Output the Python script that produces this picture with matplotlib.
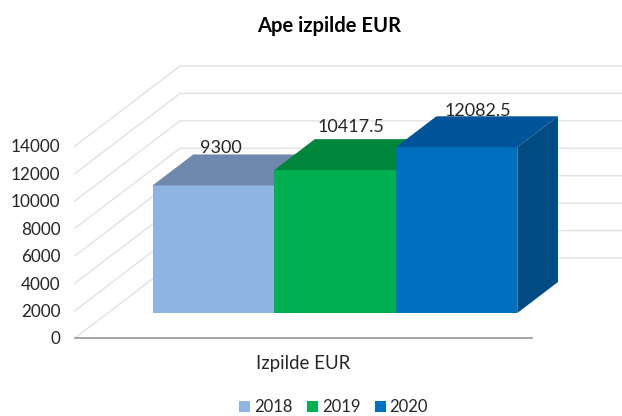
import matplotlib
matplotlib.use("Agg")
import matplotlib.pyplot as plt
from matplotlib.patches import Patch

plt.rcParams['font.family'] = ['Lato', 'DejaVu Sans']

years = ['2018', '2019', '2020']
values = [9300, 10417.5, 12082.5]
value_labels = ['9300', '10417.5', '12082.5']
y_ticks = [0, 2000, 4000, 6000, 8000, 10000, 12000, 14000]
category = 'Izpilde EUR'

front_colors = ['#8DB4E2', '#00B050', '#0070C0']
top_colors = ['#6F88AE', '#00863C', '#005499']
side_color = '#004B82'
grid_color = '#E4E4E4'

W, H = 622, 416
fig = plt.figure(figsize=(W / 100, H / 100), dpi=100)

# axes box is the front edge of the fake 3D floor, in pixels
ax = fig.add_axes([75 / W, 1 - 338 / H, 457 / W, 192 / H])
ax.set_xlim(0, 1)
ax.set_ylim(0, 14000)

# one unit of depth goes 105 px right and 80 px up
depth_x = 105 / 457
depth_y = 80 / 192 * 14000


def shift(x, y, d):
    return x + d * depth_x, y + d * depth_y


# walls: slanted part on the left, flat part along the back
for t in y_ticks:
    x0, y0 = shift(0, t, 0)
    x1, y1 = shift(0, t, 1)
    x2, y2 = shift(1, t, 1)
    ax.plot([x0, x1, x2], [y0, y1, y2], color=grid_color, lw=1.1, clip_on=False, zorder=1)

# bars sit partway into the floor
bar_w = 0.266
bar_start = 0.098
d_front = 25 / 80
d_back = 56 / 80

for i, v in enumerate(values):
    left = bar_start + i * bar_w
    right = left + bar_w
    fx0, fy0 = shift(left, 0, d_front)
    ax.bar(fx0, v, width=bar_w, bottom=fy0, align='edge', color=front_colors[i],
           clip_on=False, zorder=3 + i)
    # top face
    a = shift(left, v, d_front)
    b = shift(right, v, d_front)
    c = shift(right, v, d_back)
    e = shift(left, v, d_back)
    ax.fill([a[0], b[0], c[0], e[0]], [a[1], b[1], c[1], e[1]],
            color=top_colors[i], lw=0, clip_on=False, zorder=3 + i)

# side of the last bar only, the others are hidden
last = len(values) - 1
right = bar_start + (last + 1) * bar_w
p0 = shift(right, 0, d_front)
p1 = shift(right, values[last], d_front)
p2 = shift(right, values[last], d_back)
p3 = shift(right, 0, d_back)
ax.fill([p0[0], p1[0], p2[0], p3[0]], [p0[1], p1[1], p2[1], p3[1]],
        color=side_color, lw=0, clip_on=False, zorder=8)

# data labels, nudged by hand in the original
label_dx = [7, 16, 21]
label_dy = [-2, 4, -3]
for i, v in enumerate(values):
    left = bar_start + i * bar_w
    x, y = shift(left + bar_w / 2, v, d_front)
    ax.annotate(value_labels[i], (x, y), xytext=(label_dx[i] * 0.72, (label_dy[i] + 31) * 0.72),
                textcoords='offset points', ha='center', va='bottom', fontsize=13,
                color='#262626', zorder=10, annotation_clip=False)

for s in ['top', 'right', 'left']:
    ax.spines[s].set_visible(False)
ax.spines['bottom'].set_color('#8C8C8C')
ax.spines['bottom'].set_linewidth(1.1)
ax.spines['bottom'].set_zorder(2)
ax.patch.set_alpha(0)

ax.set_yticks(y_ticks)
ax.set_xticks([0.5])
ax.set_xticklabels([category])
ax.tick_params(axis='y', length=0, pad=10.5, labelsize=12.3, labelcolor='#262626')
ax.tick_params(axis='x', length=0, pad=12, labelsize=13.4, labelcolor='#262626')

fig.text(329 / W, 1 - 26 / H, 'Ape izpilde EUR', ha='center', va='center',
         fontsize=14.5, fontweight='bold', color='black')

handles = [Patch(facecolor=c, label=y) for c, y in zip(front_colors, years)]
fig.legend(handles=handles, loc='center', bbox_to_anchor=(333.5 / W, 1 - 407 / H), ncols=3,
           frameon=False, fontsize=12, handlelength=0.66, handleheight=0.66,
           handletextpad=0.25, columnspacing=0.85, labelcolor='#262626',
           borderpad=0, borderaxespad=0)

fig.savefig('out.png', dpi=100)
